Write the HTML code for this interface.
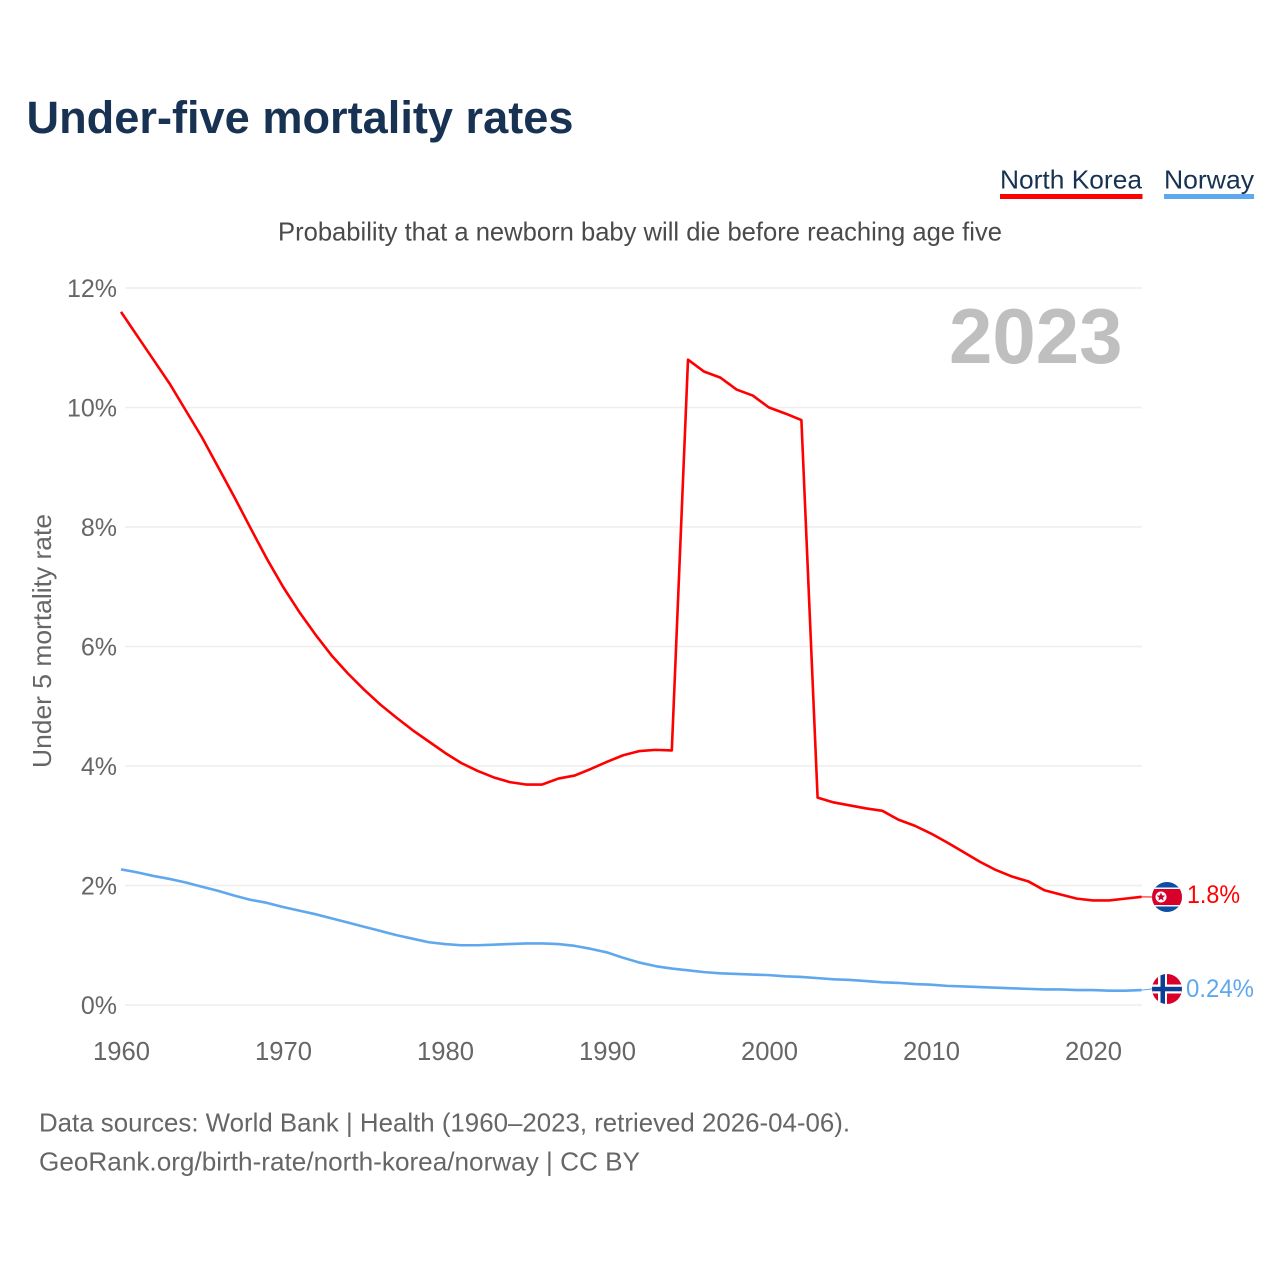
<!DOCTYPE html>
<html lang="en">
<head>
<meta charset="utf-8">
<title>Under-five mortality rates</title>
<style>
html,body{margin:0;padding:0;background:#fff;}
svg{display:block;font-family:"Liberation Sans",sans-serif;}
</style>
</head>
<body>
<svg id="chart" width="1280" height="1280" viewBox="0 0 1280 1280" xmlns="http://www.w3.org/2000/svg">
  <rect x="0" y="0" width="1280" height="1280" fill="#ffffff"/>
  <text x="26.500" y="133" font-size="45.500" font-weight="700" fill="#173252" textLength="547" lengthAdjust="spacingAndGlyphs">Under-five mortality rates</text>
  <text x="1000" y="188.500" font-size="26" fill="#173252" textLength="142" lengthAdjust="spacingAndGlyphs">North Korea</text>
  <rect x="1000" y="194" width="142.500" height="5" fill="#ff0000"/>
  <text x="1164" y="188.500" font-size="26" fill="#173252" textLength="90" lengthAdjust="spacingAndGlyphs">Norway</text>
  <rect x="1164" y="194" width="90" height="5" fill="#5fa8ee"/>
  <text x="278" y="240.500" font-size="26" fill="#4a4a4a" textLength="724" lengthAdjust="spacingAndGlyphs">Probability that a newborn baby will die before reaching age five</text>
  <text transform="translate(51,641) rotate(-90)" text-anchor="middle" font-size="26" fill="#666666" textLength="254" lengthAdjust="spacingAndGlyphs">Under 5 mortality rate</text>
  <g id="grid"></g>
  <g id="yticks"></g>
  <g id="xticks"></g>
  <text x="1122.500" y="363" text-anchor="end" font-size="78" font-weight="700" fill="#bfbfbf">2023</text>
  <g id="series"></g>

  <defs>
    <clipPath id="kp-clip"><circle cx="1167" cy="897" r="15"/></clipPath>
    <clipPath id="no-clip"><circle cx="1167" cy="989" r="15"/></clipPath>
  </defs>
  <g clip-path="url(#kp-clip)">
    <rect x="1152" y="882" width="30" height="30" fill="#0b4ea2"/>
    <rect x="1152" y="887.500" width="30" height="19" fill="#ffffff"/>
    <rect x="1152" y="889" width="30" height="16" fill="#d8002b"/>
    <circle cx="1161" cy="897" r="5.500" fill="#ffffff"/>
    <polygon points="1161,892.500 1162.200,895.400 1165.300,895.600 1162.900,897.600 1163.700,900.600 1161,899 1158.300,900.600 1159.100,897.600 1156.700,895.600 1159.800,895.400" fill="#d8002b"/>
  </g>
  <g clip-path="url(#no-clip)">
    <rect x="1152" y="974" width="30" height="30" fill="#d8002b"/>
    <rect x="1158" y="974" width="9" height="30" fill="#ffffff"/>
    <rect x="1152" y="984.500" width="30" height="9" fill="#ffffff"/>
    <rect x="1160.500" y="974" width="4.500" height="30" fill="#0b3f94"/>
    <rect x="1152" y="986.800" width="30" height="4.500" fill="#0b3f94"/>
  </g>
  <text x="1187" y="903" font-size="25" fill="#ff0000" textLength="53" lengthAdjust="spacingAndGlyphs">1.8%</text>
  <text x="1186" y="997" font-size="25" fill="#5fa8ee" textLength="68" lengthAdjust="spacingAndGlyphs">0.24%</text>

  <text x="39" y="1131.500" font-size="26" fill="#666666" textLength="811" lengthAdjust="spacingAndGlyphs">Data sources: World Bank | Health (1960–2023, retrieved 2026-04-06).</text>
  <text x="39" y="1170.500" font-size="26" fill="#666666" textLength="601" lengthAdjust="spacingAndGlyphs">GeoRank.org/birth-rate/north-korea/norway | CC BY</text>
</svg>
<script>
const firstYear = 1960;
const xTickYears = [1960, 1970, 1980, 1990, 2000, 2010, 2020];
const yTickValues = [0, 2, 4, 6, 8, 10, 12];
const northKorea = [11.6, 11.2, 10.8, 10.4, 9.95, 9.5, 9.0, 8.5, 7.98, 7.47, 7.0, 6.58, 6.2, 5.85, 5.55, 5.28, 5.03, 4.81, 4.6, 4.41, 4.22, 4.05, 3.92, 3.81, 3.73, 3.69, 3.69, 3.79, 3.84, 3.95, 4.07, 4.18, 4.25, 4.27, 4.26, 10.8, 10.6, 10.5, 10.3, 10.2, 10.0, 9.9, 9.79, 3.47, 3.39, 3.34, 3.29, 3.25, 3.1, 3.0, 2.87, 2.72, 2.56, 2.4, 2.26, 2.15, 2.07, 1.92, 1.85, 1.78, 1.75, 1.75, 1.78, 1.81];
const norway = [2.27, 2.22, 2.16, 2.11, 2.05, 1.98, 1.91, 1.83, 1.76, 1.71, 1.64, 1.58, 1.52, 1.45, 1.38, 1.31, 1.24, 1.17, 1.11, 1.05, 1.02, 1.0, 1.0, 1.01, 1.02, 1.03, 1.03, 1.02, 0.99, 0.94, 0.88, 0.79, 0.71, 0.65, 0.61, 0.58, 0.55, 0.53, 0.52, 0.51, 0.5, 0.48, 0.47, 0.45, 0.43, 0.42, 0.4, 0.38, 0.37, 0.35, 0.34, 0.32, 0.31, 0.3, 0.29, 0.28, 0.27, 0.26, 0.26, 0.25, 0.25, 0.24, 0.24, 0.25];

const NS = 'http://www.w3.org/2000/svg';
function xScale(year) { return 121 + (year - 1960) * 16.2; }
function yScale(value) { return 1005 - value * 59.75; }
function make(tag, attrs, parent) {
  const el = document.createElementNS(NS, tag);
  for (const k in attrs) el.setAttribute(k, attrs[k]);
  parent.appendChild(el);
  return el;
}
const grid = document.getElementById('grid');
const yticks = document.getElementById('yticks');
const xticks = document.getElementById('xticks');
const series = document.getElementById('series');

yTickValues.forEach(function (v) {
  const line = make('line', {x1: 125, x2: 1142, y1: yScale(v), y2: yScale(v), stroke: '#eeeeee', 'stroke-width': 1.5}, grid);
  
  
  const t = make('text', {x: 117, y: yScale(v) + 9, 'text-anchor': 'end', 'font-size': 25, fill: '#666666'}, yticks);
  
  
  t.textContent = v + '%';
});
xTickYears.forEach(function (yr) {
  const t = make('text', {x: xScale(yr) + 0.5, y: 1060, 'text-anchor': 'middle', 'font-size': 25.6, fill: '#666666'}, xticks);
  
  
  t.textContent = yr;
});
function toPoints(values) {
  return values.map(function (v, i) { return xScale(firstYear + i).toFixed(2) + ',' + yScale(v).toFixed(2); }).join(' ');
}
const nkLine = make('polyline', {points: toPoints(northKorea), fill: 'none', stroke: '#ff0000', 'stroke-width': 2.6, 'stroke-linejoin': 'round'}, series);


const noLine = make('polyline', {points: toPoints(norway), fill: 'none', stroke: '#5fa8ee', 'stroke-width': 2.6, 'stroke-linejoin': 'round'}, series);


const lastX = xScale(firstYear + northKorea.length - 1);
const nkConnector = make('line', {x1: lastX, x2: 1152, y1: yScale(northKorea[northKorea.length - 1]), y2: 897, stroke: '#ff0000', 'stroke-width': 1}, series);


const noConnector = make('line', {x1: lastX, x2: 1152, y1: yScale(norway[norway.length - 1]), y2: 989, stroke: '#5fa8ee', 'stroke-width': 1}, series);


</script>
</body>
</html>
